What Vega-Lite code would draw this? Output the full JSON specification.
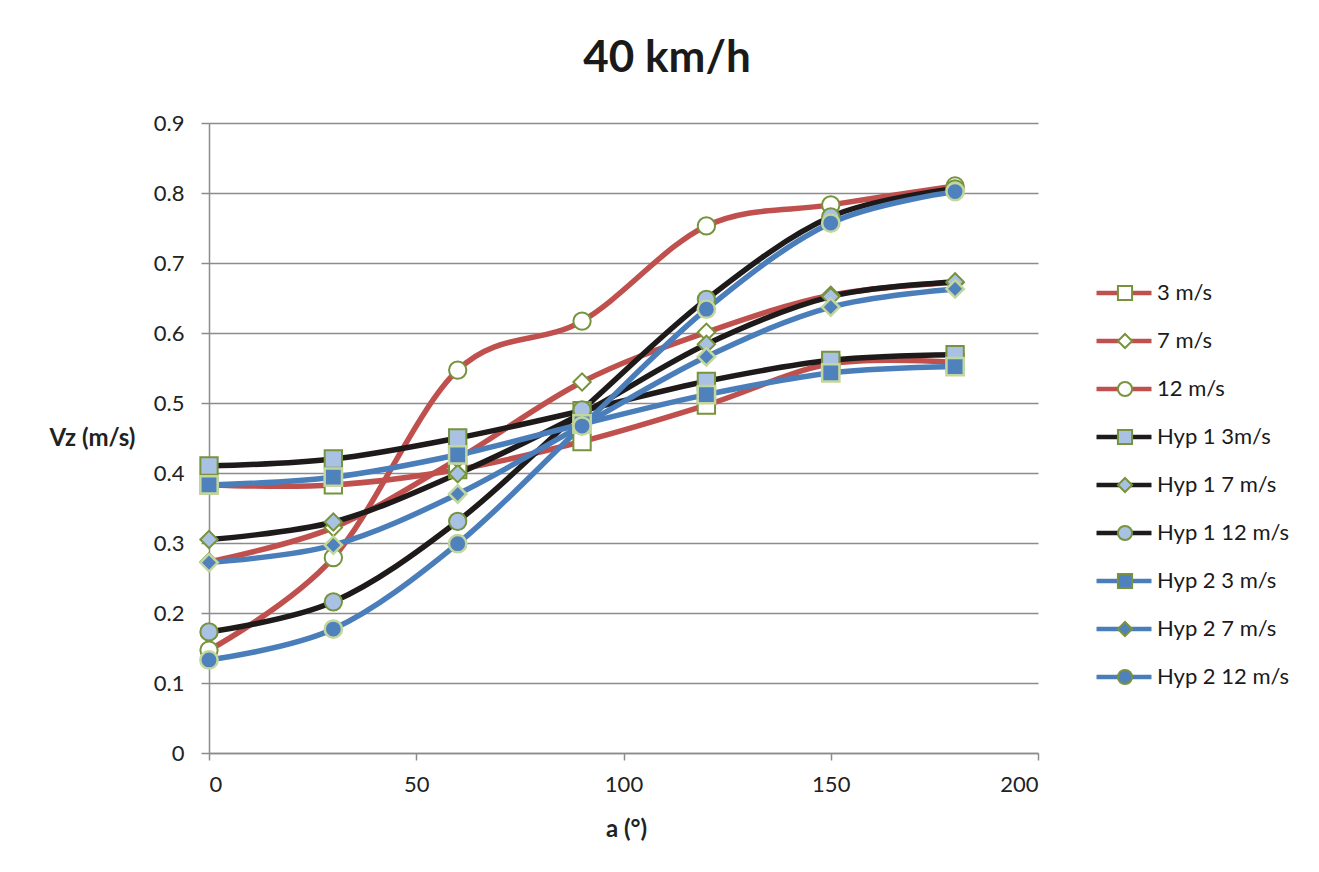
{
  "$schema": "https://vega.github.io/schema/vega-lite/v6.json",
  "width": 829,
  "height": 630,
  "autosize": {"type": "none"},
  "padding": {"left": 209, "top": 123, "right": 281, "bottom": 119},
  "background": "white",
  "config": {
    "font": "Lato",
    "view": {"stroke": null},
    "axis": {"labelFont": "Lato", "titleFont": "Lato", "labelColor": "#222222", "titleColor": "#222222"}
  },
  "title": {
    "text": "40 km/h",
    "fontSize": 44,
    "fontWeight": "bold",
    "font": "Lato",
    "color": "#1a1a1a",
    "anchor": "middle",
    "frame": "group",
    "dx": 43.5,
    "baseline": "alphabetic",
    "offset": -4
  },
  "data": {
    "values": [
      {"series": "3 m/s", "a": 0, "vz": 0.383},
      {"series": "3 m/s", "a": 30, "vz": 0.383},
      {"series": "3 m/s", "a": 60, "vz": 0.405},
      {"series": "3 m/s", "a": 90, "vz": 0.445},
      {"series": "3 m/s", "a": 120, "vz": 0.497},
      {"series": "3 m/s", "a": 150, "vz": 0.556},
      {"series": "3 m/s", "a": 180, "vz": 0.558},
      {"series": "7 m/s", "a": 0, "vz": 0.273},
      {"series": "7 m/s", "a": 30, "vz": 0.322},
      {"series": "7 m/s", "a": 60, "vz": 0.42},
      {"series": "7 m/s", "a": 90, "vz": 0.53},
      {"series": "7 m/s", "a": 120, "vz": 0.601},
      {"series": "7 m/s", "a": 150, "vz": 0.654},
      {"series": "7 m/s", "a": 180, "vz": 0.672},
      {"series": "12 m/s", "a": 0, "vz": 0.147},
      {"series": "12 m/s", "a": 30, "vz": 0.279},
      {"series": "12 m/s", "a": 60, "vz": 0.547},
      {"series": "12 m/s", "a": 90, "vz": 0.617},
      {"series": "12 m/s", "a": 120, "vz": 0.753},
      {"series": "12 m/s", "a": 150, "vz": 0.783},
      {"series": "12 m/s", "a": 180, "vz": 0.81},
      {"series": "Hyp 1 3m/s", "a": 0, "vz": 0.41},
      {"series": "Hyp 1 3m/s", "a": 30, "vz": 0.42},
      {"series": "Hyp 1 3m/s", "a": 60, "vz": 0.45},
      {"series": "Hyp 1 3m/s", "a": 90, "vz": 0.489},
      {"series": "Hyp 1 3m/s", "a": 120, "vz": 0.531},
      {"series": "Hyp 1 3m/s", "a": 150, "vz": 0.561},
      {"series": "Hyp 1 3m/s", "a": 180, "vz": 0.569},
      {"series": "Hyp 1 7 m/s", "a": 0, "vz": 0.305},
      {"series": "Hyp 1 7 m/s", "a": 30, "vz": 0.33},
      {"series": "Hyp 1 7 m/s", "a": 60, "vz": 0.399},
      {"series": "Hyp 1 7 m/s", "a": 90, "vz": 0.485},
      {"series": "Hyp 1 7 m/s", "a": 120, "vz": 0.584},
      {"series": "Hyp 1 7 m/s", "a": 150, "vz": 0.652},
      {"series": "Hyp 1 7 m/s", "a": 180, "vz": 0.673},
      {"series": "Hyp 1 12 m/s", "a": 0, "vz": 0.173},
      {"series": "Hyp 1 12 m/s", "a": 30, "vz": 0.216},
      {"series": "Hyp 1 12 m/s", "a": 60, "vz": 0.331},
      {"series": "Hyp 1 12 m/s", "a": 90, "vz": 0.49},
      {"series": "Hyp 1 12 m/s", "a": 120, "vz": 0.648},
      {"series": "Hyp 1 12 m/s", "a": 150, "vz": 0.766},
      {"series": "Hyp 1 12 m/s", "a": 180, "vz": 0.806},
      {"series": "Hyp 2 3 m/s", "a": 0, "vz": 0.383},
      {"series": "Hyp 2 3 m/s", "a": 30, "vz": 0.394},
      {"series": "Hyp 2 3 m/s", "a": 60, "vz": 0.426},
      {"series": "Hyp 2 3 m/s", "a": 90, "vz": 0.47},
      {"series": "Hyp 2 3 m/s", "a": 120, "vz": 0.512},
      {"series": "Hyp 2 3 m/s", "a": 150, "vz": 0.543},
      {"series": "Hyp 2 3 m/s", "a": 180, "vz": 0.552},
      {"series": "Hyp 2 7 m/s", "a": 0, "vz": 0.272},
      {"series": "Hyp 2 7 m/s", "a": 30, "vz": 0.297},
      {"series": "Hyp 2 7 m/s", "a": 60, "vz": 0.37},
      {"series": "Hyp 2 7 m/s", "a": 90, "vz": 0.468},
      {"series": "Hyp 2 7 m/s", "a": 120, "vz": 0.566},
      {"series": "Hyp 2 7 m/s", "a": 150, "vz": 0.637},
      {"series": "Hyp 2 7 m/s", "a": 180, "vz": 0.663},
      {"series": "Hyp 2 12 m/s", "a": 0, "vz": 0.133},
      {"series": "Hyp 2 12 m/s", "a": 30, "vz": 0.177},
      {"series": "Hyp 2 12 m/s", "a": 60, "vz": 0.299},
      {"series": "Hyp 2 12 m/s", "a": 90, "vz": 0.467},
      {"series": "Hyp 2 12 m/s", "a": 120, "vz": 0.634},
      {"series": "Hyp 2 12 m/s", "a": 150, "vz": 0.757},
      {"series": "Hyp 2 12 m/s", "a": 180, "vz": 0.802}
    ]
  },
  "encoding": {
    "x": {
      "field": "a", "type": "quantitative",
      "scale": {"domain": [0, 200], "nice": false, "zero": false},
      "axis": {
        "values": [0, 50, 100, 150, 200],
        "title": "a (°)",
        "titleFontSize": 24, "titleFontWeight": "bold",
        "titleX": 417, "titleY": 76, "titleAlign": "center", "titleBaseline": "middle", "titleAngle": 0,
        "labelFontSize": 22, "labelPadding": 14,
        "grid": false,
        "domainColor": "#8c8c8c", "domainWidth": 1.5,
        "tickColor": "#8c8c8c", "tickWidth": 1.5, "tickSize": 7
      }
    },
    "y": {
      "field": "vz", "type": "quantitative",
      "scale": {"domain": [0, 0.9], "nice": false, "zero": false},
      "axis": {
        "values": [0, 0.1, 0.2, 0.3, 0.4, 0.5, 0.6, 0.7, 0.8, 0.9],
        "format": "~g",
        "title": "Vz (m/s)",
        "titleFontSize": 24, "titleFontWeight": "bold",
        "titleAngle": 0, "titleX": -117, "titleY": 315, "titleAlign": "center", "titleBaseline": "middle",
        "labelFontSize": 22, "labelPadding": 17,
        "grid": true, "gridColor": "#8c8c8c", "gridWidth": 1.5,
        "domainColor": "#8c8c8c", "domainWidth": 1.5,
        "tickColor": "#8c8c8c", "tickWidth": 1.5, "tickSize": 8
      }
    }
  },
  "layer": [
    {
      "mark": {"type": "line", "interpolate": "cardinal", "strokeWidth": 5.5, "strokeCap": "round"},
      "encoding": {
        "stroke": {
          "field": "series", "type": "nominal", "sort": null,
          "scale": {"range": ["#c0504d", "#c0504d", "#c0504d", "#1f1a1a", "#1f1a1a", "#1f1a1a", "#4a7ebb", "#4a7ebb", "#4a7ebb"]},
          "legend": {
            "orient": "none", "legendX": 904, "legendY": 159, "title": null, "padding": 0,
            "symbolType": "M-6.875,0H6.875", "symbolSize": 64, "symbolStrokeWidth": 4.5,
            "labelFontSize": 22, "labelOpacity": 0, "rowPadding": 26, "labelOffset": 24
          }
        }
      }
    },
    {
      "transform": [{"filter": "indexof(datum.series, 'Hyp 2') < 0"}],
      "mark": {"type": "point", "filled": true, "size": 300, "stroke": "#77933c", "strokeWidth": 2, "opacity": 1, "strokeOpacity": 1},
      "encoding": {
        "shape": {
          "field": "series", "type": "nominal",
          "scale": {
            "domain": ["3 m/s", "7 m/s", "12 m/s", "Hyp 1 3m/s", "Hyp 1 7 m/s", "Hyp 1 12 m/s", "Hyp 2 3 m/s", "Hyp 2 7 m/s", "Hyp 2 12 m/s"],
            "range": ["square", "diamond", "circle", "square", "diamond", "circle", "square", "diamond", "circle"]
          },
          "legend": {
            "orient": "none", "legendX": 905, "legendY": 159, "title": null, "padding": 0,
            "symbolSize": 200, "symbolStrokeWidth": 2,
            "labelFontSize": 22, "labelColor": "#1a1a1a", "rowPadding": 24, "labelOffset": 21,
            "encode": {"symbols": {"update": {"stroke": {"signal": "test(/^Hyp 2/, datum.label) ? '#c3d69b' : '#77933c'"}, "strokeWidth": {"value": 2.2}, "opacity": {"value": 1}}}}
          }
        },
        "fill": {
          "field": "series", "type": "nominal",
          "scale": {
            "domain": ["3 m/s", "7 m/s", "12 m/s", "Hyp 1 3m/s", "Hyp 1 7 m/s", "Hyp 1 12 m/s", "Hyp 2 3 m/s", "Hyp 2 7 m/s", "Hyp 2 12 m/s"],
            "range": ["#ffffff", "#ffffff", "#ffffff", "#a9c2e3", "#a9c2e3", "#a9c2e3", "#4f81bd", "#4f81bd", "#4f81bd"]
          },
          "legend": {
            "orient": "none", "legendX": 905, "legendY": 159, "title": null, "padding": 0,
            "symbolSize": 200, "symbolStrokeWidth": 2,
            "labelFontSize": 22, "labelColor": "#1a1a1a", "rowPadding": 24, "labelOffset": 21,
            "encode": {"symbols": {"update": {"stroke": {"signal": "test(/^Hyp 2/, datum.label) ? '#c3d69b' : '#77933c'"}, "strokeWidth": {"value": 2.2}, "opacity": {"value": 1}}}}
          }
        }
      }
    },
    {
      "transform": [{"filter": "indexof(datum.series, 'Hyp 2') >= 0"}],
      "mark": {"type": "point", "filled": true, "size": 300, "stroke": "#c3d69b", "strokeWidth": 2.5, "opacity": 1, "strokeOpacity": 1},
      "encoding": {
        "shape": {"field": "series", "type": "nominal"},
        "fill": {"field": "series", "type": "nominal"}
      }
    }
  ]
}
